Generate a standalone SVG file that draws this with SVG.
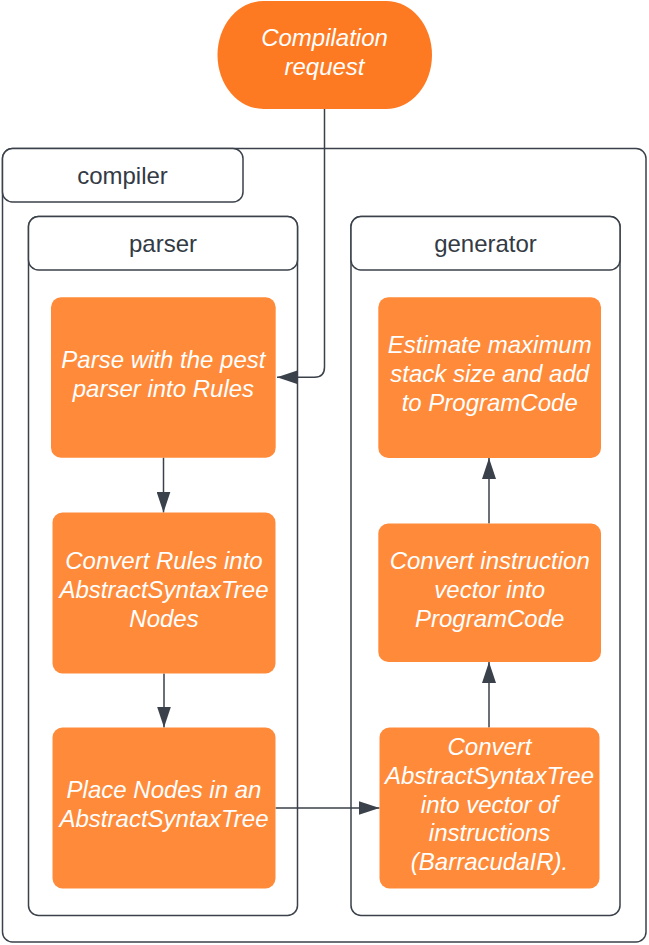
<svg xmlns="http://www.w3.org/2000/svg" width="649" height="945" viewBox="0 0 649 945">
  <style>
    .container { fill: #ffffff; stroke: #3a414a; stroke-width: 1.5; }
    .label { font-family: "Liberation Sans", Arial, sans-serif; font-size: 24px; fill: #333a44; text-anchor: middle; }
    .node { fill: #ff8b3a; }
    .start { fill: #fe7a22; }
    .ntext { font-family: "Liberation Sans", Arial, sans-serif; font-size: 24px; font-style: italic; fill: #ffffff; text-anchor: middle; }
    .conn { fill: none; stroke: #3a414a; stroke-width: 1.5; }
  </style>
  <defs>
    <marker id="arrow" viewBox="0 0 21 14" refX="21" refY="7" markerWidth="21" markerHeight="14" markerUnits="userSpaceOnUse" orient="auto">
      <path d="M0,0 L21,7 L0,14 Z" fill="#3a414a"/>
    </marker>
  </defs>

  <rect width="649" height="945" fill="#ffffff"/>

  <g id="compiler">
    <rect class="container" x="2.5" y="148.5" width="643.5" height="793.5" rx="10"/>
    <rect class="container" x="2.5" y="148.5" width="240.5" height="53.5" rx="10"/>
    <text class="label" x="122.5" y="184.3">compiler</text>
  </g>

  <g id="parser">
    <rect class="container" x="28.5" y="216.5" width="269" height="699" rx="10"/>
    <rect class="container" x="28.5" y="216.5" width="269" height="53.5" rx="10"/>
    <text class="label" x="163" y="251.7">parser</text>
  </g>

  <g id="generator">
    <rect class="container" x="351" y="216.5" width="269" height="699" rx="10"/>
    <rect class="container" x="351" y="216.5" width="269" height="53.5" rx="10"/>
    <text class="label" x="485.5" y="251.7">generator</text>
  </g>

  <g id="connectors">
    <path class="conn" d="M324.5,109 L324.5,367 Q324.5,377.3 314.5,377.3 L277,377.3" marker-end="url(#arrow)"/>
    <path class="conn" d="M163.5,457.5 L163.5,512.5" marker-end="url(#arrow)"/>
    <path class="conn" d="M164,673.5 L164,727.5" marker-end="url(#arrow)"/>
    <path class="conn" d="M275.5,808 L379.5,808" marker-end="url(#arrow)"/>
    <path class="conn" d="M489,727.5 L489,662" marker-end="url(#arrow)"/>
    <path class="conn" d="M489,523.5 L489,458" marker-end="url(#arrow)"/>
  </g>

  <g id="compilation-request">
    <rect class="start" x="217.5" y="1" width="214.5" height="108" rx="46" ry="54"/>
    <text class="ntext" x="324.5" y="46">Compilation</text>
    <text class="ntext" x="324.5" y="74.8">request</text>
  </g>

  <g id="parse-rules">
    <rect class="node" x="51" y="297.3" width="224.7" height="160.5" rx="10"/>
    <text class="ntext" x="163.4" y="368.2">Parse with the pest</text>
    <text class="ntext" x="163.4" y="397">parser into Rules</text>
  </g>

  <g id="convert-rules">
    <rect class="node" x="52.5" y="512.5" width="223" height="161" rx="10"/>
    <text class="ntext" x="164" y="569">Convert Rules into</text>
    <text class="ntext" x="164" y="597.8">AbstractSyntaxTree</text>
    <text class="ntext" x="164" y="626.6">Nodes</text>
  </g>

  <g id="place-nodes">
    <rect class="node" x="52.5" y="727.5" width="223" height="161" rx="10"/>
    <text class="ntext" x="164" y="798">Place Nodes in an</text>
    <text class="ntext" x="164" y="826.8">AbstractSyntaxTree</text>
  </g>

  <g id="estimate-stack">
    <rect class="node" x="378.3" y="297.3" width="222.7" height="160.7" rx="10"/>
    <text class="ntext" x="489.7" y="353.3">Estimate maximum</text>
    <text class="ntext" x="489.7" y="382.1">stack size and add</text>
    <text class="ntext" x="489.7" y="410.9">to ProgramCode</text>
  </g>

  <g id="convert-instruction">
    <rect class="node" x="378.3" y="523.5" width="222.7" height="138.5" rx="10"/>
    <text class="ntext" x="489.7" y="569">Convert instruction</text>
    <text class="ntext" x="489.7" y="597.8">vector into</text>
    <text class="ntext" x="489.7" y="626.6">ProgramCode</text>
  </g>

  <g id="convert-ast">
    <rect class="node" x="379.5" y="727.5" width="220" height="161" rx="10"/>
    <text class="ntext" x="489.5" y="755">Convert</text>
    <text class="ntext" x="489.5" y="783.8">AbstractSyntaxTree</text>
    <text class="ntext" x="489.5" y="812.6">into vector of</text>
    <text class="ntext" x="489.5" y="841.4">instructions</text>
    <text class="ntext" x="489.5" y="870.2">(BarracudaIR).</text>
  </g>
</svg>
